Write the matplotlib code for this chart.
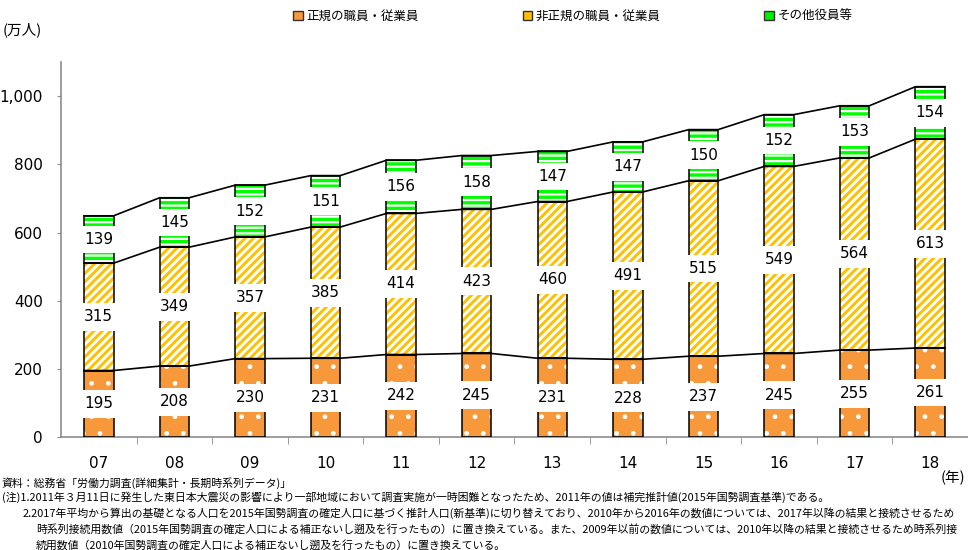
import numpy as np
import matplotlib.pyplot as plt
from matplotlib.patches import Patch

plt.rcParams['font.family'] = ['DejaVu Sans', 'Noto Sans CJK JP']

# data (万人)
years = ['07', '08', '09', '10', '11', '12', '13', '14', '15', '16', '17', '18']
regular = [195, 208, 230, 231, 242, 245, 231, 228, 237, 245, 255, 261]
non_regular = [315, 349, 357, 385, 414, 423, 460, 491, 515, 549, 564, 613]
officers = [139, 145, 152, 151, 156, 158, 147, 147, 150, 152, 153, 154]

series_names = ['正規の職員・従業員', '非正規の職員・従業員', 'その他役員等']
y_ticks = [0, 200, 400, 600, 800, 1000]

notes = [
    '資料：総務省「労働力調査(詳細集計・長期時系列データ)」',
    '(注)1.2011年３月11日に発生した東日本大震災の影響により一部地域において調査実施が一時困難となったため、2011年の値は補完推計値(2015年国勢調査基準)である。',
    '2.2017年平均から算出の基礎となる人口を2015年国勢調査の確定人口に基づく推計人口(新基準)に切り替えており、2010年から2016年の数値については、2017年以降の結果と接続させるため',
    '時系列接続用数値（2015年国勢調査の確定人口による補正ないし遡及を行ったもの）に置き換えている。また、2009年以前の数値については、2010年以降の結果と接続させるため時系列接',
    '続用数値（2010年国勢調査の確定人口による補正ないし遡及を行ったもの）に置き換えている。',
]

# face colour, hatch colour, hatch pattern, hatch line width
styles = [
    ('#F7983A', 'white', '.', 1.0),
    ('white', '#FFC000', '////', 2.1),
    ('white', '#00FF00', '---', 2.4),
]

BAR_W = 0.39
GAP = 82  # height of the white label window, data units


def draw_bar(ax, x, vals, bottom, style):
    face, hcol, hatch, hlw = style
    with plt.rc_context({'hatch.linewidth': hlw}):
        bars = ax.bar(x, vals, BAR_W, bottom=bottom, color=face,
                      edgecolor=hcol, hatch=hatch, linewidth=0, zorder=2)
    for b in bars:
        if hasattr(b, 'set_hatch_linewidth'):
            b.set_hatch_linewidth(hlw)
    ax.bar(x, vals, BAR_W, bottom=bottom, facecolor='none',
           edgecolor='black', linewidth=1.1, zorder=3)


def main():
    fig = plt.figure(figsize=(9.68, 5.5), dpi=100)
    ax = fig.add_axes([0.063, 0.2055, 0.937, 0.6815])

    x = np.arange(len(years))
    reg = np.array(regular)
    non = np.array(non_regular)
    oth = np.array(officers)
    bottoms = [np.zeros(len(x)), reg, reg + non]
    values = [reg, non, oth]

    for vals, bot, st in zip(values, bottoms, styles):
        draw_bar(ax, x, vals, bot, st)
        mid = bot + vals / 2
        # white window behind each label
        ax.bar(x, GAP, BAR_W + 0.04, bottom=mid - GAP / 2, color='white',
               linewidth=0, zorder=4)
        for xi, m, v in zip(x, mid, vals):
            ax.text(xi, m, str(v), ha='center', va='center', fontsize=11,
                    zorder=5)

    # series lines joining the bar tops
    xl = np.ravel(np.column_stack([x - BAR_W / 2, x + BAR_W / 2]))
    for bot, vals in zip(bottoms, values):
        top = np.repeat(bot + vals, 2)
        ax.plot(xl, top, color='black', linewidth=1.2, zorder=3.5)

    ax.set_xlim(-0.5, len(x) - 0.5)
    ax.set_ylim(0, 1100)
    ax.set_xticks(x)
    ax.set_xticklabels(years, fontsize=11)
    ax.set_xticks(x[:-1] + 0.5, minor=True)
    ax.tick_params(axis='x', which='major', length=0, pad=14)
    ax.tick_params(axis='x', which='minor', length=5, color='#8c8c8c')
    ax.set_yticks(y_ticks)
    ax.set_yticklabels([f'{v:,}' for v in y_ticks], fontsize=11)
    ax.tick_params(axis='y', length=3, color='#8c8c8c', pad=10)
    for s in ['top', 'right']:
        ax.spines[s].set_visible(False)
    for s in ['left', 'bottom']:
        ax.spines[s].set_color('#8c8c8c')
        ax.spines[s].set_linewidth(1.2)

    handles = [Patch(facecolor=c, edgecolor='#333333', linewidth=1.0)
               for c in ['#F7983A', '#FFC000', '#00F000']]
    fig.legend(handles, series_names, loc='center', ncol=3,
               bbox_to_anchor=(0.592, 0.971), frameon=False,
               prop={'family': ['Noto Sans CJK JP'], 'size': 9},
               handlelength=0.75, handleheight=0.75, handletextpad=0.3,
               columnspacing=8.3)

    fig.text(0.003, 0.945, '(万人)', fontsize=10.5, va='center',
             family=['Noto Sans CJK JP'])
    fig.text(0.997, 0.131, '(年)', fontsize=10.5, va='center', ha='right',
             family=['Noto Sans CJK JP'])

    note_pos = [(0.002, 483), (0.002, 497), (0.023, 513), (0.037, 529),
                (0.037, 545)]
    for (nx, ny), t in zip(note_pos, notes):
        fig.text(nx, 1 - ny / 550, t, fontsize=7.85, va='center',
                 family=['Noto Sans CJK JP', 'DejaVu Sans'])

    fig.savefig('out.png', dpi=100)


if __name__ == '__main__':
    main()
